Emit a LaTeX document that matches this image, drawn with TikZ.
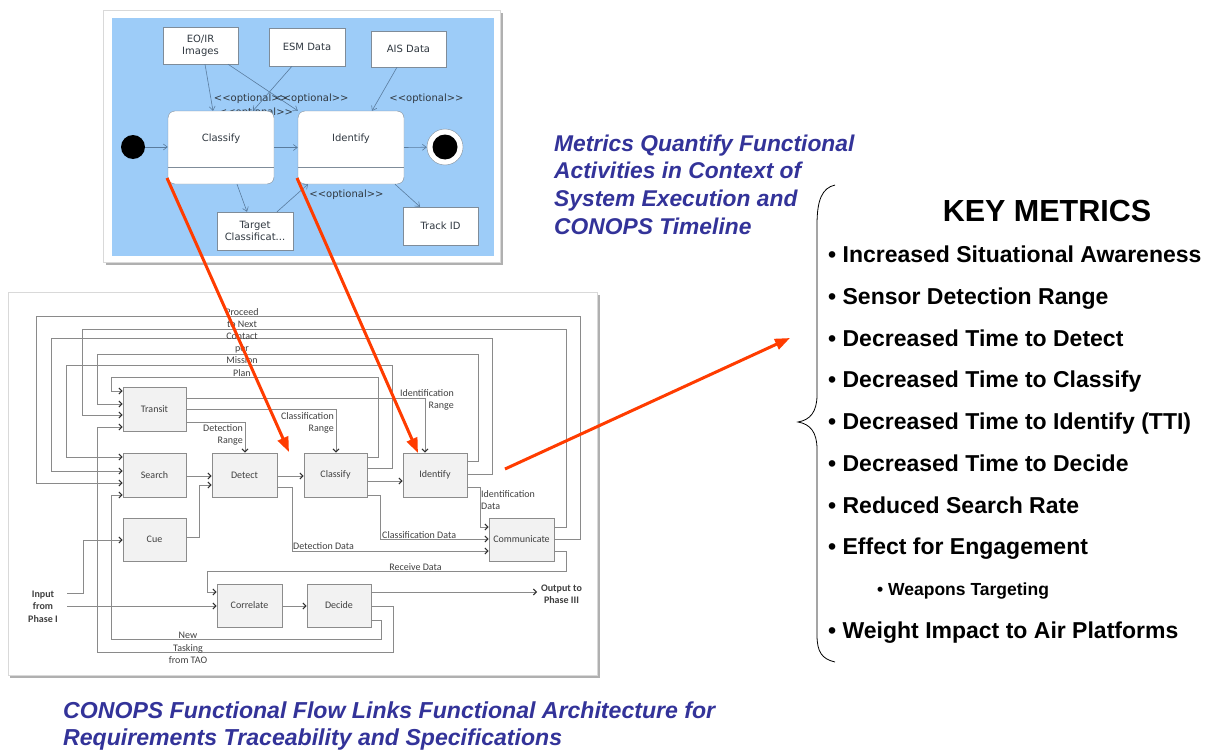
\documentclass[tikz,border=0pt]{standalone}
\usepackage{fontspec}
\setmainfont{Liberation Sans}
\newfontfamily\calibri{Carlito}
\newfontfamily\umlfont{DejaVu Sans}
\usepackage{xcolor}
\usetikzlibrary{arrows.meta,calc}

\definecolor{panelblue}{HTML}{9DCCF8}
\definecolor{umledge}{HTML}{7F8C99}
\definecolor{umlline}{HTML}{5A7C9E}
\definecolor{umltext}{HTML}{303840}
\definecolor{boxfill}{HTML}{F2F2F2}
\definecolor{boxedge}{HTML}{8C8C8C}
\definecolor{flowline}{HTML}{8A8A8A}
\definecolor{flowtip}{HTML}{303030}
\definecolor{flowtext}{HTML}{404040}
\definecolor{framegray}{HTML}{D9D9D9}
\definecolor{shadowgray}{HTML}{B0B0B0}
\definecolor{arrowred}{HTML}{FF3C00}
\definecolor{titleblue}{HTML}{333399}

\newcommand{\optlabel}{<\kern0pt<optional>\kern0pt>}

\tikzset{
  umlbox/.style={draw=umledge, fill=white, inner sep=0pt, align=center,
    font=\umlfont\fontsize{10}{12}\selectfont, text=umltext},
  umlstate/.style={umlbox, rounded corners=7pt, minimum width=106pt, minimum height=73pt},
  umltag/.style={inner sep=0pt, font=\umlfont\fontsize{10}{12}\selectfont, text=umltext},
  umlarrow/.style={draw=umlline, line width=0.6pt, -{Straight Barb[length=4pt,width=6pt]}},
  fbox/.style={draw=boxedge, fill=boxfill, inner sep=0pt, line width=0.7pt,
    font=\calibri\fontsize{10}{12}\selectfont, text=flowtext},
  flowlabel/.style={inner sep=0pt, font=\calibri\fontsize{10}{12.2}\selectfont, text=flowtext},
  flowarrow/.style={draw=flowline, line width=0.7pt,
    -{Straight Barb[length=3pt,width=6pt,line width=1pt,color=flowtip]}},
  redarrow/.style={draw=arrowred, line width=3pt, -{Triangle[length=15pt,width=11pt]}},
  metric/.style={anchor=base west, inner sep=0pt, font=\bfseries\fontsize{23}{27}\selectfont},
}

\begin{document}
\begin{tikzpicture}[x=1pt,y=-1pt]
  \useasboundingbox (0,0) rectangle (1211,752);
  \fill[white] (0,0) rectangle (1211,752);

  % State machine panel
  \fill[shadowgray] (106,13) rectangle (503,265);
  \draw[framegray, fill=white] (103,10) rectangle (500,262);
  \fill[panelblue] (112,18) rectangle (494,256);

  \node[umlbox, minimum width=75pt, minimum height=37pt] (eoir) at (200.5,45.5) {EO/IR\\Images};
  \node[umlbox, minimum width=76pt, minimum height=38pt] (esm) at (307,47) {ESM Data};
  \node[umlbox, minimum width=75pt, minimum height=36pt] (ais) at (408.5,49) {AIS Data};
  \node[umltag] (opthidden) at (256,113) {\optlabel};
  \node[umlstate] (classst) at (221,147.5) {};
  \node[umlstate] (identst) at (351,147.5) {};
  \node[umltag] (classname) at (classst.center |- 0,139) {Classify};
  \node[umltag] (identname) at (identst.center |- 0,139) {Identify};
  \draw[umledge] (classst.west |- 0,167) -- (classst.east |- 0,167);
  \draw[umledge] (identst.west |- 0,167) -- (identst.east |- 0,167);
  \node[circle, fill=black, inner sep=0pt, minimum size=24pt] (init) at (133,147) {};
  \node[circle, draw=umledge, fill=white, inner sep=0pt, minimum size=36pt] (final) at (445,147) {};
  \node[circle, fill=black, inner sep=0pt, minimum size=25pt] (finaldot) at (final) {};
  \node[umlbox, minimum width=76pt, minimum height=38pt] (target) at (255,231) {Target\\Classificat...};
  \node[umlbox, minimum width=75pt, minimum height=38pt] (trackid) at (440.5,226) {Track ID};

  \node[umltag] (opta) at (251,99) {\optlabel};
  \node[umltag] (optb) at (311.5,99) {\optlabel};
  \node[umltag] (optc) at (426.5,99) {\optlabel};
  \node[umltag] (optd) at (346.5,195) {\optlabel};

  \draw[umlarrow] (eoir.south -| 205,0) -- (classst.north -| 213,0);
  \draw[umlarrow] (eoir.south -| 228,0) -- (identst.north west);
  \draw[umlarrow] (esm.south -| 292,0) -- (classst.north -| 253,0);
  \draw[umlarrow] (ais.south -| 397,0) -- (identst.north -| 372,0);
  \draw[umlarrow] (init) -- (classst.west |- init);
  \draw[umlarrow] (classst.east) -- (identst.west);
  \draw[umlarrow] (identst.east) -- (final);
  \draw[umlarrow] (classst.south -| 237,0) -- (target.north -| 247,0);
  \draw[umlarrow] (target.north -| 277,0) -- (identst.south -| 308,0);
  \draw[umlarrow] (identst.south -| 395,0) -- (trackid.north -| 420,0);

  % Functional flow panel
  \fill[shadowgray] (10,295) rectangle (600,678);
  \draw[framegray, fill=white] (8,292) rectangle (597,675);

  \node[fbox, minimum width=63pt, minimum height=44pt] (transit) at (154.5,409) {Transit};
  \node[fbox, minimum width=63pt, minimum height=44pt] (search) at (154.5,475) {Search};
  \node[fbox, minimum width=63pt, minimum height=43pt] (cue) at (154.5,539.5) {Cue};
  \node[fbox, minimum width=65pt, minimum height=44pt] (detect) at (244.5,475) {Detect};
  \node[fbox, minimum width=63pt, minimum height=44pt] (classify) at (335.5,475) {Classify};
  \node[fbox, minimum width=64pt, minimum height=44pt] (identify) at (435,475) {Identify};
  \node[fbox, minimum width=65pt, minimum height=43pt] (comm) at (521.5,539.5) {Communicate};
  \node[fbox, minimum width=65pt, minimum height=43pt] (correlate) at (249.5,605.5) {Correlate};
  \node[fbox, minimum width=64pt, minimum height=43pt] (decide) at (339,605.5) {Decide};

  \node[flowlabel, font=\calibri\bfseries\fontsize{10}{12.5}\selectfont, align=center] (inputlbl) at (43,606.5) {Input\\from\\Phase I};
  \node[flowlabel, font=\calibri\bfseries\fontsize{10}{12}\selectfont, align=center] (outlbl) at (561.5,594) {Output to\\Phase III};
  \coordinate (inA) at (67,593);
  \coordinate (inB) at (67,606);
  \coordinate (outpt) at (537,592);

  % feedback loops
  \draw[flowarrow] (comm.east |- 0,539) -| (580,316) -| (36,483) -- (search.west |- 0,483);
  \draw[flowarrow] (comm.east |- 0,527) -| (566,329) -| (82,415) -- (transit.west |- 0,415);
  \draw[flowarrow] (identify.east |- 0,474) -| (492,338) -| (51,471) -- (search.west |- 0,471);
  \draw[flowarrow] (identify.east |- 0,461) -| (478,354) -| (97,404) -- (transit.west |- 0,404);
  \draw[flowarrow] (classify.east |- 0,468) -| (392,365) -| (66,457) -- (search.west |- 0,457);
  \draw[flowarrow] (classify.east |- 0,457) -| (378,377) -| (111,391) -- (transit.west |- 0,391);

  % ranges from transit
  \draw[flowarrow] (transit.east |- 0,398) -| (identify.north -| 425,0);
  \draw[flowarrow] (transit.east |- 0,409) -| (classify.north -| 336,0);
  \draw[flowarrow] (transit.east |- 0,422) -| (detect.north -| 245,0);

  % main chain
  \draw[flowarrow] (search.east |- 0,476) -- (detect.west |- 0,476);
  \draw[flowarrow] (cue.east |- 0,537) -| (199,485) -- (detect.west |- 0,485);
  \draw[flowarrow] (detect.east |- 0,476) -- (classify.west |- 0,476);
  \draw[flowarrow] (classify.east |- 0,481) -- (identify.west |- 0,481);
  \draw[flowarrow] (detect.east |- 0,487) -| (292,551) -- (comm.west |- 0,551);
  \draw[flowarrow] (classify.east |- 0,495) -| (380,539) -- (comm.west |- 0,539);
  \draw[flowarrow] (identify.east |- 0,487) -| (480,527) -- (comm.west |- 0,527);
  \draw[flowarrow] (comm.east |- 0,551) -| (566,571) -| (207,592) -- (correlate.west |- 0,592);
  \draw[flowarrow] (inA) -| (83,540) -- (cue.west |- 0,540);
  \draw[flowarrow] (inB) -- (correlate.west |- 0,606);
  \draw[flowarrow] (correlate.east |- 0,606) -- (decide.west |- 0,606);
  \draw[flowarrow] (decide.east |- 0,592) -- (outpt);
  \draw[flowarrow] (decide.east |- 0,606) -| (393,652) -| (97,427) -- (transit.west |- 0,427);
  \draw[flowarrow] (decide.east |- 0,620) -| (381,639) -| (111,495) -- (search.west |- 0,495);

  % flow labels
  \node[flowlabel, align=center] (proceed) at (242,342.2) {Proceed\\to Next\\Contact\\per\\Mission\\Plan};
  \node[flowlabel, align=right, anchor=east] (detrange) at (243,435) {Detection\\Range};
  \node[flowlabel, align=right, anchor=east] (clsrange) at (334,422.5) {Classification\\Range};
  \node[flowlabel, align=right, anchor=east] (idrange) at (454,399.5) {Identification\\Range};
  \node[flowlabel, anchor=south west] (detdata) at (293,550) {Detection Data};
  \node[flowlabel, anchor=south west] (clsdata) at (382,538.5) {Classification Data};
  \node[flowlabel, align=left, anchor=west] (iddata) at (481,500) {Identification\\Data};
  \node[flowlabel, anchor=south] (rcvdata) at (415.5,570.5) {Receive Data};
  \node[flowlabel, align=center] (tasking) at (188,648) {New\\Tasking\\from TAO};

  % red trace arrows
  \coordinate (classmark) at (167,178);
  \coordinate (detectmark) at (289,452);
  \coordinate (identmark) at (297,178);
  \coordinate (idflowmark) at (418,453);
  \coordinate (flowout) at (505,469);
  \coordinate (metricsin) at (790,338);
  \draw[redarrow] (classmark) -- (detectmark);
  \draw[redarrow] (identmark) -- (idflowmark);
  \draw[redarrow] (flowout) -- (metricsin);

  % captions
  \node[anchor=west, inner sep=0pt, align=left, text=titleblue,
    font=\bfseries\itshape\fontsize{22.8}{27.6}\selectfont] (metricsnote) at (554,184.5)
    {Metrics Quantify Functional\\Activities in Context of\\System Execution and\\CONOPS Timeline};
  \node[anchor=west, inner sep=0pt, align=left, text=titleblue,
    font=\bfseries\itshape\fontsize{23.1}{27}\selectfont] (flownote) at (63,726.5)
    {CONOPS Functional Flow Links Functional Architecture for\\Requirements Traceability and Specifications};

  % brace
  \draw[black, line width=0.8pt] (835,185) .. controls (822,188) and (817,200) .. (817,225)
    -- (817,395) .. controls (817,412) and (810,420) .. (798,422)
    .. controls (810,424) and (817,432) .. (817,449)
    -- (817,635) .. controls (817,652) and (822,659) .. (835,662);

  % key metrics
  \node[inner sep=0pt, font=\bfseries\fontsize{30.5}{36}\selectfont] (keymetrics) at (1047,211) {KEY METRICS};
  \node[metric] (mawareness) at (828,262.8) {• Increased Situational Awareness};
  \node[metric] (mrange) at (828,304.5) {• Sensor Detection Range};
  \node[metric] (mdetect) at (828,346.2) {• Decreased Time to Detect};
  \node[metric] (mclassify) at (828,387.8) {• Decreased Time to Classify};
  \node[metric] (midentify) at (828,429.6) {• Decreased Time to Identify (TTI)};
  \node[metric] (mdecide) at (828,471.3) {• Decreased Time to Decide};
  \node[metric] (msearch) at (828,513) {• Reduced Search Rate};
  \node[metric] (mengage) at (828,554.8) {• Effect for Engagement};
  \node[metric, font=\bfseries\fontsize{17.5}{20}\selectfont] (mweapons) at (877,595) {• Weapons Targeting};
  \node[metric] (mweight) at (828,638.8) {• Weight Impact to Air Platforms};
\end{tikzpicture}
\end{document}
